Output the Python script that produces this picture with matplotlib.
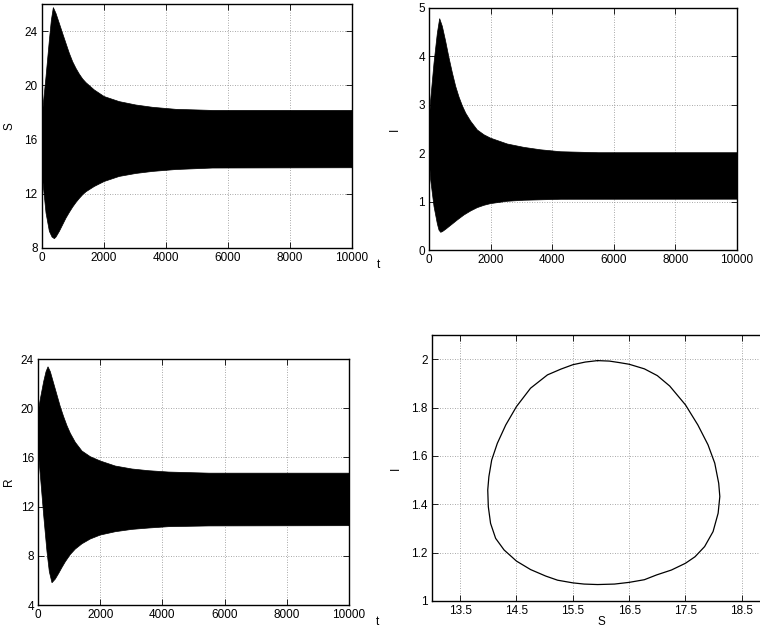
import numpy as np
import matplotlib
matplotlib.use('Agg')
import matplotlib.pyplot as plt
from matplotlib.ticker import FormatStrFormatter

plt.rcParams['font.family'] = ['Liberation Sans', 'DejaVu Sans']
plt.rcParams['font.size'] = 8.5

# envelopes of the dense oscillations
t_S_up = [0, 32, 139, 247, 311, 375, 461, 569, 676, 783, 891, 998, 1105, 1212, 1320, 1427,
          1695, 2017, 2500, 3036, 3573, 4324, 5500, 10000]
S_up = [16.96, 18.18, 20.64, 23.34, 24.81, 25.74, 25.30, 24.56, 23.82, 23.09, 22.36, 21.74, 21.25,
        20.83, 20.47, 20.20, 19.66, 19.17, 18.80, 18.55, 18.38, 18.23, 18.15, 18.15]
t_S_lo = [0, 32, 139, 247, 333, 408, 461, 569, 676, 783, 891, 998, 1105, 1212, 1320, 1427,
          1695, 2017, 2500, 3036, 3573, 4324, 5500, 10000]
S_lo = [14.75, 13.03, 10.58, 9.23, 8.81, 8.69, 8.81, 9.23, 9.72, 10.21, 10.63, 11.02, 11.36,
        11.66, 11.93, 12.15, 12.54, 12.91, 13.28, 13.50, 13.65, 13.79, 13.90, 13.92]

t_I_up = [0, 54, 162, 271, 346, 433, 541, 649, 758, 866, 974, 1082, 1190, 1353, 1569, 1786,
          2002, 2543, 3084, 3626, 4275, 5500, 10000]
I_up = [2.60, 3.10, 3.86, 4.48, 4.78, 4.62, 4.31, 3.97, 3.66, 3.38, 3.16, 2.98, 2.83, 2.66, 2.48,
        2.38, 2.31, 2.19, 2.12, 2.07, 2.03, 2.01, 2.01]
t_I_lo = [0, 54, 162, 271, 325, 379, 433, 541, 649, 758, 920, 1136, 1353, 1569, 1786, 2002,
          2543, 3084, 4275, 10000]
I_lo = [1.95, 1.45, 0.90, 0.54, 0.41, 0.366, 0.379, 0.428, 0.483, 0.538, 0.621, 0.724, 0.807,
        0.876, 0.924, 0.959, 1.007, 1.028, 1.048, 1.05]

t_R_up = [0, 75, 182, 257, 322, 397, 504, 611, 718, 825, 932, 1040, 1200, 1415, 1683, 2004,
          2487, 3022, 3558, 4201, 5500, 10000]
R_up = [19.6, 20.75, 22.16, 22.96, 23.37, 22.97, 22.02, 21.07, 20.12, 19.31, 18.58, 17.96, 17.23,
        16.52, 16.06, 15.71, 15.30, 15.06, 14.92, 14.81, 14.72, 14.72]
t_R_lo = [0, 75, 182, 289, 364, 450, 557, 665, 772, 879, 1040, 1200, 1415, 1683, 2004, 2487,
          3022, 3558, 4201, 5500, 10000]
R_lo = [16.74, 14.57, 11.32, 8.34, 6.72, 5.81, 6.11, 6.57, 7.06, 7.52, 8.11, 8.55, 8.98, 9.37,
        9.69, 9.96, 10.15, 10.26, 10.37, 10.43, 10.45]

# limit cycle in the S-I plane
cycle_S = [15.94, 16.15, 16.32, 16.50, 16.77, 17.00, 17.22, 17.50, 17.72, 17.90, 18.02, 18.09,
           18.11, 18.08, 17.99, 17.84, 17.67, 17.50, 17.25, 16.99, 16.77, 16.50, 16.24, 15.94,
           15.70, 15.50, 15.23, 15.02, 14.75, 14.50, 14.28, 14.13, 14.04, 14.00, 13.99, 14.01,
           14.06, 14.16, 14.31, 14.50, 14.75, 15.05, 15.29, 15.50, 15.72, 15.94]
cycle_I = [1.994, 1.992, 1.986, 1.979, 1.960, 1.932, 1.889, 1.811, 1.728, 1.646, 1.570, 1.487,
           1.432, 1.363, 1.287, 1.225, 1.183, 1.156, 1.128, 1.108, 1.088, 1.077, 1.070, 1.068,
           1.070, 1.075, 1.086, 1.103, 1.130, 1.165, 1.211, 1.259, 1.321, 1.390, 1.459, 1.514,
           1.583, 1.652, 1.728, 1.804, 1.880, 1.935, 1.959, 1.977, 1.988, 1.994]

t_ticks = [0, 2000, 4000, 6000, 8000, 10000]


def style(ax):
    ax.set_axisbelow(True)
    ax.grid(True, linestyle=(0, (1, 2)), color='0.55', linewidth=0.6)
    ax.tick_params(direction='in', top=True, right=True, length=4, width=0.6, pad=3)
    for sp in ax.spines.values():
        sp.set_linewidth(1.0)


def envelope(ax, tu, up, tl, lo):
    xs = list(tu) + list(tl)[::-1]
    ys = list(up) + list(lo)[::-1]
    ax.fill(xs, ys, color='black', linewidth=0.5)


fig = plt.figure(figsize=(7.6, 6.28), dpi=100)

ax1 = fig.add_axes([0.0549, 0.6051, 0.4083, 0.3885])
envelope(ax1, t_S_up, S_up, t_S_lo, S_lo)
ax1.set_xlim(0, 10000)
ax1.set_ylim(8, 26)
ax1.set_xticks(t_ticks)
ax1.set_yticks([8, 12, 16, 20, 24])
ax1.set_ylabel('S')
ax1.yaxis.set_label_coords(-0.083, 0.5)
ax1.text(1.084, -0.07, 't', transform=ax1.transAxes, ha='center', va='center')
style(ax1)

ax2 = fig.add_axes([0.5645, 0.6019, 0.4053, 0.3854])
envelope(ax2, t_I_up, I_up, t_I_lo, I_lo)
ax2.set_xlim(0, 10000)
ax2.set_ylim(0, 5)
ax2.set_xticks(t_ticks)
ax2.set_yticks([0, 1, 2, 3, 4, 5])
ax2.set_ylabel('I')
ax2.yaxis.set_label_coords(-0.092, 0.5)
style(ax2)

ax3 = fig.add_axes([0.05, 0.0366, 0.4092, 0.3917])
envelope(ax3, t_R_up, R_up, t_R_lo, R_lo)
ax3.set_xlim(0, 10000)
ax3.set_ylim(4, 24)
ax3.set_xticks(t_ticks)
ax3.set_yticks([4, 8, 12, 16, 20, 24])
ax3.set_ylabel('R')
ax3.yaxis.set_label_coords(-0.074, 0.5)
ax3.text(1.092, -0.069, 't', transform=ax3.transAxes, ha='center', va='center')
style(ax3)

ax4 = fig.add_axes([0.5684, 0.0430, 0.4447, 0.4236])
ax4.plot(cycle_S, cycle_I, color='black', linewidth=0.9)
ax4.set_xlim(13, 19)
ax4.set_ylim(1, 2.1)
ax4.set_xticks([13.5, 14.5, 15.5, 16.5, 17.5, 18.5])
ax4.set_yticks([1, 1.2, 1.4, 1.6, 1.8, 2])
ax4.yaxis.set_major_formatter(FormatStrFormatter('%g'))
ax4.set_xlabel('S')
ax4.xaxis.set_label_coords(0.5, -0.058)
ax4.set_ylabel('I')
ax4.yaxis.set_label_coords(-0.09, 0.5)
style(ax4)

fig.savefig('out.png', dpi=100)
